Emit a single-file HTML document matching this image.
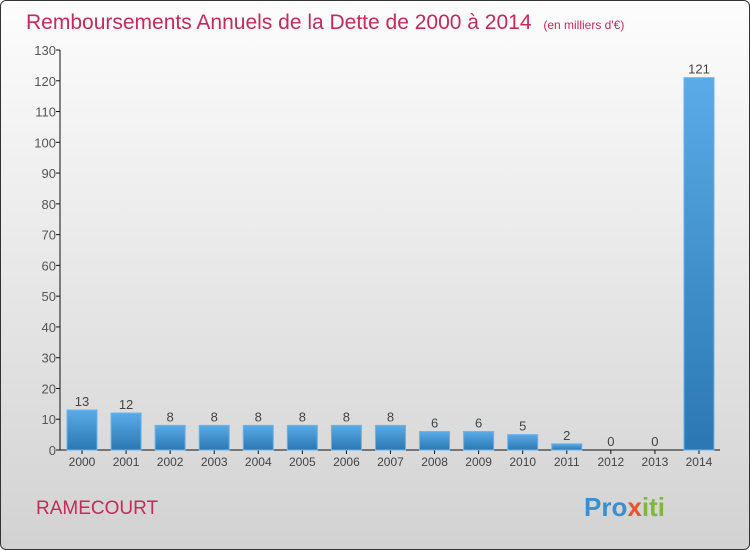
<!DOCTYPE html>
<html><head><meta charset="utf-8"><style>
body{margin:0;width:750px;height:550px;overflow:hidden;font-family:"Liberation Sans",sans-serif}
#wrap{position:absolute;left:0;top:0;width:748px;height:548px;border:1px solid #333;border-radius:6px;background:linear-gradient(#fdfdfd,#d2d2d2)}
</style></head><body>
<div id="wrap"></div>
<svg id="c" width="750" height="550" style="position:absolute;left:0;top:0">
<defs><linearGradient id="bg" x1="0" y1="0" x2="0" y2="1"><stop offset="0" stop-color="#5aabe7"/><stop offset="1" stop-color="#2a77b3"/></linearGradient></defs>
<text x="26" y="29" font-size="21" fill="#c8285a" style="font-weight:300">Remboursements Annuels de la Dette de 2000 à 2014 <tspan font-size="12" dx="6">(en milliers d'€)</tspan></text>
<text x="36" y="514" font-size="19" fill="#c8285a">RAMECOURT</text>
<text x="584" y="516" font-size="26" font-weight="bold"><tspan fill="#3a8fd0">Pro</tspan><tspan fill="#e8552a">x</tspan><tspan fill="#7fb83a">iti</tspan></text>
<g id="axes"></g><g id="bars"></g>
</svg>
<script>
const categories=["2000","2001","2002","2003","2004","2005","2006","2007","2008","2009","2010","2011","2012","2013","2014"];
const values=[13,12,8,8,8,8,8,8,6,6,5,2,0,0,121];
const ticks=[0,10,20,30,40,50,60,70,80,90,100,110,120,130];
const NS="http://www.w3.org/2000/svg";
const y0=450,yTop=50,vmax=130,axX=60;
const y=v=>y0-(y0-yTop)*v/vmax;
const x=i=>82+i*44.07;
function mk(t,a,p){const e=document.createElementNS(NS,t);for(const k in a)e.setAttribute(k,a[k]);p.appendChild(e);return e;}
const ax=document.getElementById('axes'),bg=document.getElementById('bars');
const yl=mk('line',{x1:axX,y1:yTop,x2:axX,y2:y0,stroke:'#111'},ax);


const xl=mk('line',{x1:axX,y1:y0,x2:720,y2:y0,stroke:'#111'},ax);


ticks.forEach(t=>{
 mk('line',{x1:axX-4,y1:y(t),x2:axX,y2:y(t),stroke:'#111'},ax);
 const tx=mk('text',{x:axX-4,y:y(t)+5,'text-anchor':'end','font-size':13,fill:'#555'},ax);
 tx.textContent=t;
 
 
});
categories.forEach((c,i)=>{
 const cx=x(i),v=values[i];
 if(v>0){const r=mk('rect',{x:cx-15,y:y(v),width:30,height:y0-y(v),fill:'url(#bg)',stroke:'#66b4ee','stroke-width':1},bg);
 
 }
 const vl=mk('text',{x:cx,y:y(v)-4,'text-anchor':'middle','font-size':13,fill:'#444'},bg);
 vl.textContent=v;
 
 
 mk('line',{x1:cx,y1:y0,x2:cx,y2:y0+4,stroke:'#111'},ax);
 const xt=mk('text',{x:cx,y:y0+16,'text-anchor':'middle','font-size':12,fill:'#444'},ax);
 xt.textContent=c;
 
 
});
</script>
</body></html>
